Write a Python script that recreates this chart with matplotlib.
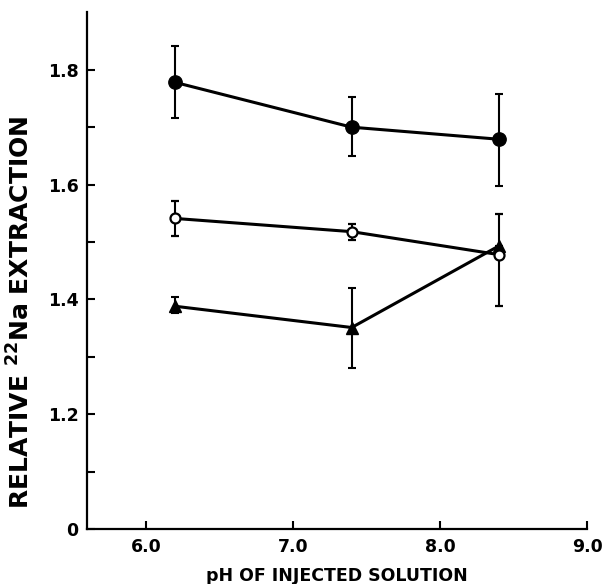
import matplotlib.pyplot as plt

ph = [6.2, 7.4, 8.4]

filled = [1.778, 1.700, 1.679]
filled_lo = [0.062, 0.051, 0.081]
filled_hi = [0.064, 0.052, 0.078]

open_c = [1.541, 1.518, 1.478]
open_lo = [0.030, 0.014, 0.090]
open_hi = [0.030, 0.014, 0.070]

tri = [1.388, 1.351, 1.493]
tri_lo = [0.012, 0.071, 0.0]
tri_hi = [0.017, 0.068, 0.0]

plt.rcParams['font.family'] = ['DejaVu Sans']
plt.rcParams['font.weight'] = 'bold'

fig = plt.figure(figsize=(6.02, 5.84), dpi=100)
ax = fig.add_axes([0.1445, 0.0942, 0.8306, 0.8846])

kw = dict(color='black', lw=2.2, elinewidth=1.5, capsize=3, capthick=1.5)
ax.errorbar(ph, filled, yerr=[filled_lo, filled_hi], marker='o', ms=9.6,
            mfc='black', mec='black', **kw)
ax.errorbar(ph, tri, yerr=[tri_lo, tri_hi], marker='^', ms=8.5,
            mfc='black', mec='black', **kw)
ax.errorbar(ph, open_c, yerr=[open_lo, open_hi], marker='o', ms=7.2,
            mfc='white', mec='black', mew=1.6, **kw)

ax.set_xlim(5.6, 9.0)
ax.set_ylim(1.0, 1.9)
ax.spines['top'].set_visible(False)
ax.spines['right'].set_visible(False)
ax.spines['left'].set_linewidth(1.6)
ax.spines['bottom'].set_linewidth(1.6)

ax.set_xticks([6.0, 7.0, 8.0, 9.0])
ax.set_xticklabels(['6.0', '7.0', '8.0', '9.0'])
ax.set_yticks([1.0, 1.1, 1.2, 1.3, 1.4, 1.5, 1.6, 1.7, 1.8])
ax.set_yticklabels(['0', '', '1.2', '', '1.4', '', '1.6', '', '1.8'])
ax.tick_params(direction='in', length=6, width=1.5, labelsize=12.5)
ax.tick_params(axis='y', pad=6)
ax.tick_params(axis='x', pad=6.5)

ax.set_xlabel('pH OF INJECTED SOLUTION', fontsize=12.5, fontweight='bold', labelpad=8)
ax.set_ylabel(r'RELATIVE $^{\mathbf{22}}$Na EXTRACTION', fontsize=18, fontweight='bold')
ax.yaxis.set_label_coords(-0.104, 0.42)

fig.savefig('out.png', dpi=100)
